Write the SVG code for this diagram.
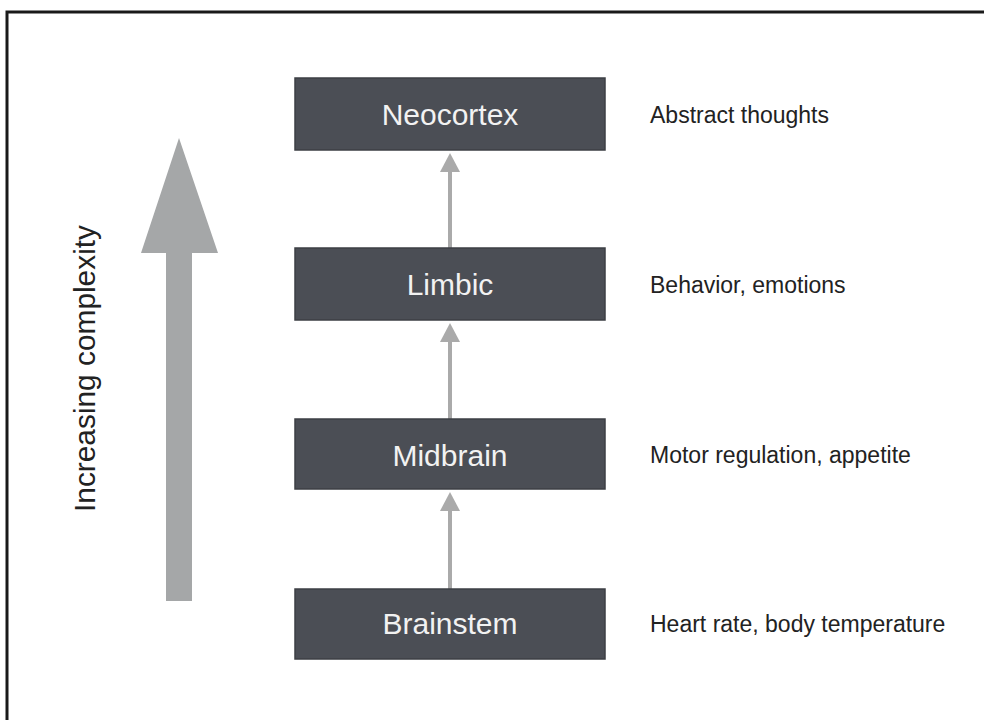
<svg xmlns="http://www.w3.org/2000/svg" width="984" height="720" viewBox="0 0 984 720">
<style>
.box{fill:#4b4e55;stroke:#3d3f44;stroke-width:1.5}
.bt{font-family:"Liberation Sans",Arial,sans-serif;font-size:30px;fill:#f2f2f2;text-anchor:middle}
.lbl{font-family:"Liberation Sans",Arial,sans-serif;font-size:23px;fill:#222}
.conn{stroke:#aaaaaa;stroke-width:4;fill:none}
.head{fill:#aaaaaa}
</style>
<rect x="0" y="0" width="984" height="720" fill="#ffffff"/>
<path d="M7 720 V12 H984" fill="none" stroke="#1a1a1a" stroke-width="3"/>
<g id="complexity-arrow">
<polygon points="179,138 218,253 192,253 192,601 166,601 166,253 141,253" fill="#a5a7a8"/>
<text x="95" y="368.5" transform="rotate(-90 95 368.5)" font-family="Liberation Sans,Arial,sans-serif" font-size="30" fill="#222" text-anchor="middle" textLength="287" lengthAdjust="spacingAndGlyphs">Increasing complexity</text>
</g>
<g id="connectors">
<line class="conn" x1="450" y1="248" x2="450" y2="170"/>
<polygon class="head" points="450,153 460,172 440,172"/>
<line class="conn" x1="450" y1="419" x2="450" y2="340"/>
<polygon class="head" points="450,323 460,342 440,342"/>
<line class="conn" x1="450" y1="589" x2="450" y2="510"/>
<polygon class="head" points="450,492 460,511 440,511"/>
</g>
<g id="neocortex">
<rect class="box" x="295" y="78" width="310" height="72"/>
<text class="bt" x="450" y="125">Neocortex</text>
<text class="lbl" x="650" y="123">Abstract thoughts</text>
</g>
<g id="limbic">
<rect class="box" x="295" y="248" width="310" height="72"/>
<text class="bt" x="450" y="295">Limbic</text>
<text class="lbl" x="650" y="293">Behavior, emotions</text>
</g>
<g id="midbrain">
<rect class="box" x="295" y="419" width="310" height="70"/>
<text class="bt" x="450" y="466">Midbrain</text>
<text class="lbl" x="650" y="463">Motor regulation, appetite</text>
</g>
<g id="brainstem">
<rect class="box" x="295" y="589" width="310" height="70"/>
<text class="bt" x="450" y="634">Brainstem</text>
<text class="lbl" x="650" y="632">Heart rate, body temperature</text>
</g>
</svg>
